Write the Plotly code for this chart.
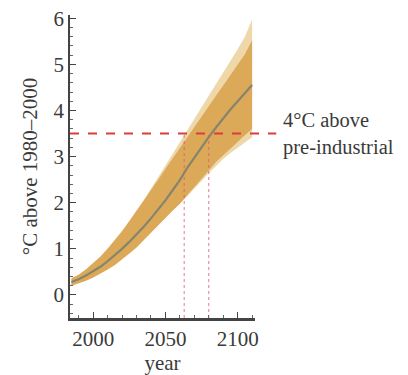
import plotly.graph_objects as go

years = [1985, 1990, 1995, 2000, 2005, 2010, 2015, 2020, 2025, 2030, 2035, 2040, 2045,
         2050, 2055, 2060, 2065, 2070, 2075, 2080, 2085, 2090, 2095, 2100, 2105, 2110]
median = [0.28, 0.34, 0.42, 0.51, 0.61, 0.73, 0.86, 1.00, 1.15, 1.31, 1.48, 1.66, 1.85,
          2.05, 2.27, 2.49, 2.75, 2.98, 3.20, 3.42, 3.63, 3.83, 4.02, 4.20, 4.38, 4.55]
light_hi = [0.36, 0.44, 0.55, 0.68, 0.83, 1.00, 1.18, 1.38, 1.60, 1.82, 2.05, 2.30, 2.55,
            2.80, 3.05, 3.30, 3.56, 3.82, 4.08, 4.33, 4.58, 4.83, 5.08, 5.33, 5.60, 5.97]
dark_hi = [0.36, 0.44, 0.55, 0.68, 0.83, 1.00, 1.18, 1.38, 1.60, 1.82, 2.05, 2.28, 2.50,
           2.73, 2.96, 3.19, 3.42, 3.65, 3.88, 4.10, 4.32, 4.54, 4.76, 4.98, 5.22, 5.52]
dark_lo = [0.20, 0.25, 0.31, 0.38, 0.46, 0.55, 0.65, 0.77, 0.90, 1.03, 1.18, 1.33, 1.50,
           1.67, 1.83, 1.98, 2.15, 2.33, 2.52, 2.70, 2.88, 3.04, 3.18, 3.32, 3.46, 3.60]
light_lo = [0.20, 0.25, 0.31, 0.38, 0.46, 0.55, 0.65, 0.77, 0.90, 1.03, 1.18, 1.33, 1.50,
            1.67, 1.83, 1.98, 2.13, 2.30, 2.47, 2.64, 2.80, 2.95, 3.08, 3.20, 3.31, 3.42]

threshold = 3.5
crossing_years = [2063, 2080]
threshold_label = "4°C above<br>pre-industrial"

x_tickvals = [2000, 2050, 2100]
y_tickvals = [0, 1, 2, 3, 4, 5, 6]

FONT = "Liberation Serif"
TXT = "#3a3a3a"

fig = go.Figure()

fig.add_trace(go.Scatter(x=years + years[::-1], y=light_hi + light_lo[::-1],
                         fill="toself", fillcolor="rgb(238,216,170)",
                         line=dict(width=0), mode="lines", hoverinfo="skip",
                         showlegend=False))
fig.add_trace(go.Scatter(x=years + years[::-1], y=dark_hi + dark_lo[::-1],
                         fill="toself", fillcolor="rgb(219,169,88)",
                         line=dict(width=0), mode="lines", hoverinfo="skip",
                         showlegend=False))
fig.add_trace(go.Scatter(x=years, y=median, mode="lines",
                         line=dict(color="rgb(135,132,108)", width=2.2),
                         showlegend=False))

for cy in crossing_years:
    fig.add_trace(go.Scatter(x=[cy, cy], y=[-0.5, threshold], mode="lines",
                             line=dict(color="rgba(220,90,110,0.8)", width=1, dash="dot"),
                             showlegend=False))

fig.add_shape(type="line", xref="paper", yref="y", x0=0, x1=1.115,
              y0=threshold, y1=threshold,
              line=dict(color="rgb(222,60,60)", width=2, dash="dash"))

fig.add_annotation(xref="paper", yref="y", x=1.14, y=threshold, xanchor="left",
                   yanchor="middle", text=threshold_label, showarrow=False, align="left",
                   font=dict(family=FONT, size=20.5, color=TXT))

# page body adds an 8px offset; figure placed so the plot lands where the reference has it
fig.update_layout(
    width=408, height=367,
    margin=dict(l=62, r=161, t=7, b=57),
    paper_bgcolor="white", plot_bgcolor="white",
    font=dict(family=FONT, size=21, color=TXT),
)
fig.update_xaxes(range=[1984, 2112], tickvals=x_tickvals, showgrid=False, zeroline=False,
                 showline=True, linecolor="#444", linewidth=2.5, automargin=False,
                 ticks="inside", ticklen=6, tickcolor="#444", ticklabeloverflow="allow",
                 minor=dict(dtick=10, tick0=2000, ticks="inside", ticklen=3, tickcolor="#666"),
                 title=dict(text="year", standoff=0, font=dict(size=21)))
fig.update_yaxes(range=[-0.5, 6.07], tickvals=y_tickvals, showgrid=False, zeroline=False,
                 showline=True, linecolor="#444", linewidth=1.5, automargin=False,
                 ticks="inside", ticklen=6, tickcolor="#444", ticklabeloverflow="allow",
                 minor=dict(dtick=0.2, tick0=0, ticks="inside", ticklen=3, tickcolor="#666"),
                 title=dict(text="°C above 1980–2000", standoff=10, font=dict(size=21)))

fig.write_html("out.html")
